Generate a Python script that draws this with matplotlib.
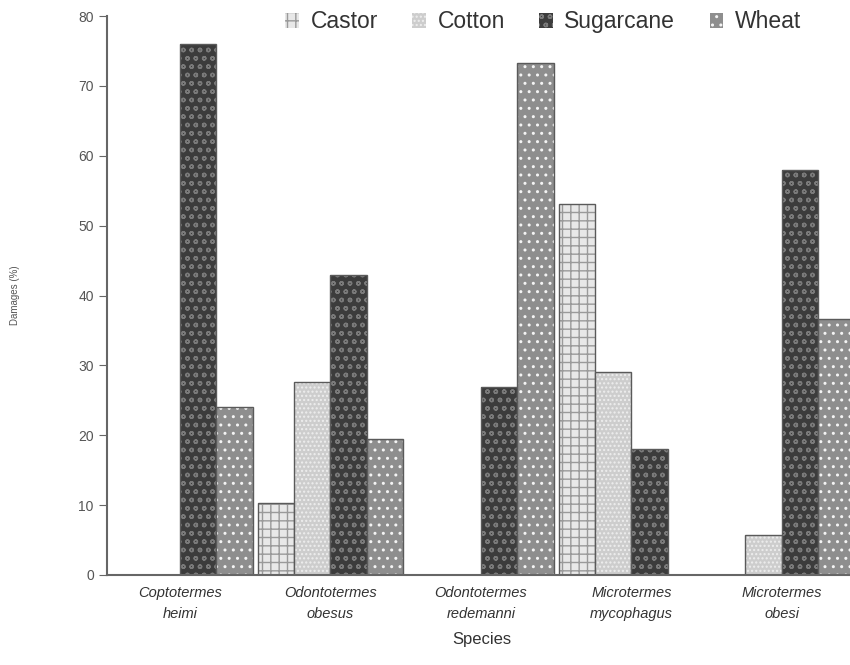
import matplotlib
matplotlib.use("Agg")
import matplotlib.pyplot as plt
import numpy as np

species = ["Coptotermes\nheimi", "Odontotermes\nobesus", "Odontotermes\nredemanni",
           "Microtermes\nmycophagus", "Microtermes\nobesi"]
castor = [0, 10.3, 0, 53.1, 0]
cotton = [0, 27.6, 0, 29.1, 5.7]
sugarcane = [76.0, 43.0, 26.9, 18.1, 57.9]
wheat = [24.0, 19.4, 73.3, 0, 36.7]
series_names = ["Castor", "Cotton", "Sugarcane", "Wheat"]

plt.rcParams['font.family'] = ['Liberation Sans', 'DejaVu Sans']
plt.rcParams['hatch.linewidth'] = 1.0

fig = plt.figure(figsize=(8.5, 6.65), dpi=100)
ax = fig.add_axes([107/850, 90/665, (857-107)/850, (575-16)/665])

x = np.arange(len(species))
w = 0.242
styles = [
    dict(face="#e8e8e8", hatch="++", hcol="#9a9a9a"),
    dict(face="#cdcdcd", hatch="....", hcol="#eeeeee"),
    dict(face="#3c3c3c", hatch="oo", hcol="#7a7a7a"),
    dict(face="#8e8e8e", hatch="..", hcol="#f4f4f4"),
]
data = [castor, cotton, sugarcane, wheat]
handles = []
for i, (vals, st, name) in enumerate(zip(data, styles, series_names)):
    pos = x + (i - 1.5) * w
    b = ax.bar(pos, vals, w, color=st["face"], edgecolor=st["hcol"], hatch=st["hatch"],
               linewidth=0, label=name)
    ax.bar(pos, vals, w, fill=False, edgecolor="#5a5a5a", linewidth=1.0)
    handles.append(b)

ax.set_xlim(-0.485, 4.5)
ax.set_ylim(0, 80)
ax.set_yticks(range(0, 81, 10))
ax.set_xticks(x)
ax.set_xticklabels(species, fontstyle="italic", fontsize=10.5, color="#333333", linespacing=1.6)
ax.tick_params(axis="x", length=0, pad=8)
ax.tick_params(axis="y", length=6, direction="out", labelsize=10, labelcolor="#555555", color="#666666")
for s in ["top", "right"]:
    ax.spines[s].set_visible(False)
for s in ["left", "bottom"]:
    ax.spines[s].set_color("#666666")
    ax.spines[s].set_linewidth(1.5)

ax.set_ylabel("Damages (%)", fontsize=7, color="#555555", labelpad=42)
ax.set_xlabel("Species", fontsize=12, color="#333333", labelpad=8)

leg = ax.legend(handles=handles, ncol=4, loc="upper right", bbox_to_anchor=(0.953, 1.047),
                frameon=False, fontsize=16.5, handlelength=0.6, handleheight=0.6,
                handletextpad=0.5, columnspacing=1.5, labelcolor="#333333")

fig.savefig("out.png", dpi=100)
